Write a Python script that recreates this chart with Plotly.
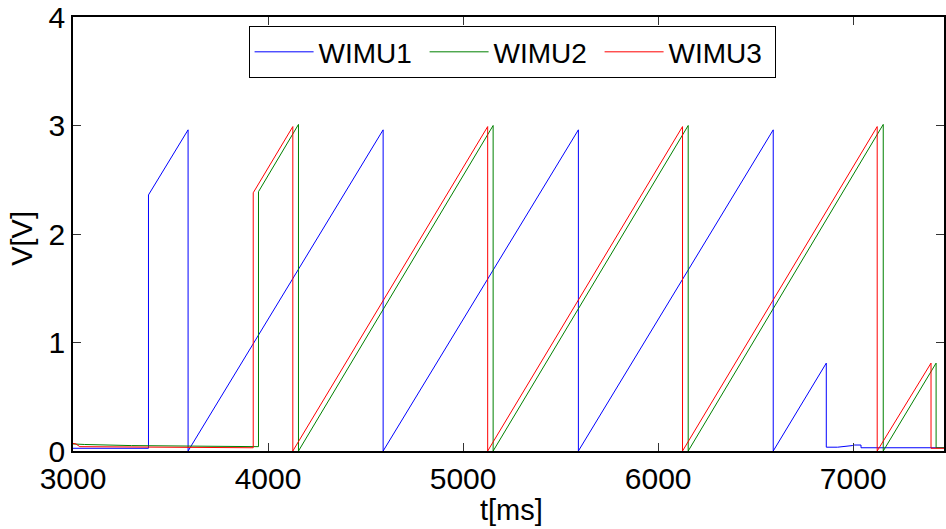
import plotly.graph_objects as go

# WIMU1 (blue) breakpoints: time [ms], voltage [V]
t_wimu1 = [3000, 3100, 3250, 3387, 3387, 3590, 3590, 4590, 4590, 5591, 5591, 6590, 6590,
           6862, 6862, 6920, 6995, 7005, 7040, 7040, 7480]
v_wimu1 = [0.025, 0.025, 0.025, 0.025, 2.36, 2.96, 0.0, 2.96, 0.0, 2.96, 0.0, 2.96, 0.0,
           0.81, 0.035, 0.035, 0.05, 0.055, 0.055, 0.03, 0.03]

# WIMU2 (green)
t_wimu2 = [3000, 3060, 3300, 3600, 3951, 3951, 4156, 4156, 5154, 5154, 6154, 6154,
           7154, 7154, 7425, 7425, 7480]
v_wimu2 = [0.065, 0.06, 0.05, 0.045, 0.04, 2.39, 3.01, 0.0, 3.0, 0.0, 3.0, 0.0,
           3.01, 0.0, 0.81, 0.03, 0.03]

# WIMU3 (red)
t_wimu3 = [3000, 3015, 3035, 3300, 3924, 3924, 4127, 4127, 5126, 5126, 6125, 6125,
           7123, 7123, 7399, 7399, 7480]
v_wimu3 = [0.07, 0.065, 0.04, 0.035, 0.03, 2.38, 2.99, 0.0, 2.99, 0.0, 2.99, 0.0,
           2.99, 0.0, 0.81, 0.025, 0.025]

x_ticks = [3000, 4000, 5000, 6000, 7000]
y_ticks = [0, 1, 2, 3, 4]

FONT = "Liberation Sans, Arial, sans-serif"

fig = go.Figure()
for name, t, v, c in [("WIMU1", t_wimu1, v_wimu1, "#0000ff"),
                      ("WIMU2", t_wimu2, v_wimu2, "#008000"),
                      ("WIMU3", t_wimu3, v_wimu3, "#ff0000")]:
    fig.add_trace(go.Scatter(x=t, y=v, mode="lines", name=name,
                             line=dict(color=c, width=1)))

fig.update_layout(
    width=946, height=529,
    margin=dict(l=73, r=0, t=17, b=78),
    plot_bgcolor="white", paper_bgcolor="white",
    font=dict(family=FONT, size=30, color="black"),
    showlegend=True,
    legend=dict(orientation="h", x=0.2016, y=0.979, xanchor="left", yanchor="top",
                bordercolor="black", borderwidth=1, bgcolor="white",
                font=dict(family=FONT, size=28, color="black"),
                itemwidth=59, entrywidth=101, entrywidthmode="pixels"),
    xaxis=dict(range=[3000, 7465.5], tickvals=x_ticks, ticks="inside", ticklen=8,
               tickcolor="#333", showline=True, linecolor="black", linewidth=1.5,
               mirror="ticks", showgrid=False, zeroline=False,
               ticklabelstandoff=0,
               tickfont=dict(family=FONT, size=30)),
    yaxis=dict(range=[0, 4], tickvals=y_ticks, ticks="inside", ticklen=8,
               tickcolor="#333", showline=True, linecolor="black", linewidth=1.5,
               mirror="ticks", showgrid=False, zeroline=False,
               tickfont=dict(family=FONT, size=30)),
    annotations=[
        dict(text="t[ms]", xref="paper", yref="paper", x=0.504, y=-0.135,
             xanchor="center", yanchor="middle", showarrow=False,
             font=dict(family=FONT, size=29)),
        dict(text="V[V]", xref="paper", yref="paper", x=-0.058, y=0.49,
             xanchor="center", yanchor="middle", showarrow=False, textangle=-90,
             font=dict(family=FONT, size=29)),
    ],
)

fig.write_html("out.html")
